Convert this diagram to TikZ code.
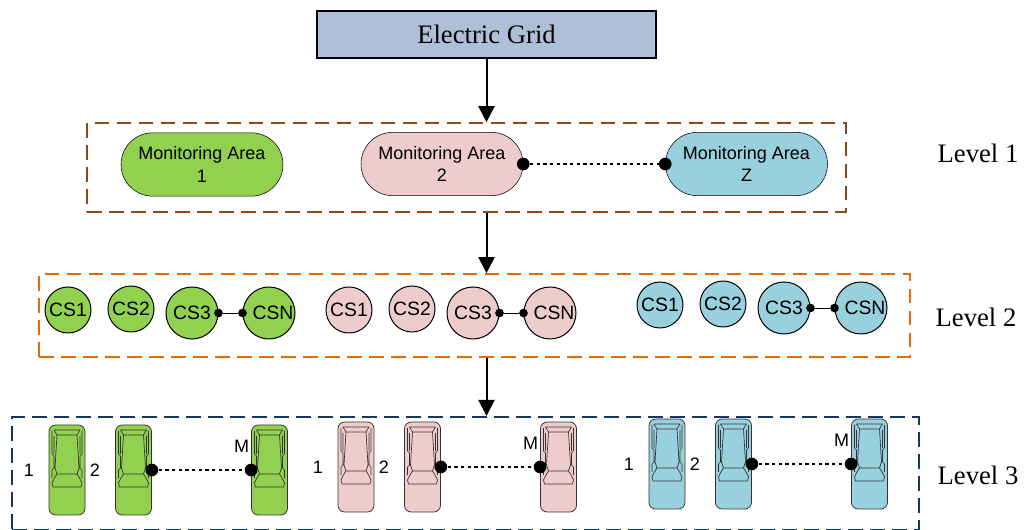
\documentclass[tikz,border=0pt]{standalone}
\usepackage{fontspec}
\setmainfont{Liberation Serif}
\setsansfont{Liberation Sans}
\usepackage{xcolor}
\usetikzlibrary{arrows.meta,positioning,calc,shapes.misc}

\definecolor{gridblue}{HTML}{AEBFD8}
\definecolor{greenfill}{HTML}{92D050}
\definecolor{pinkfill}{HTML}{EECCCC}
\definecolor{bluefill}{HTML}{99D0DE}
\definecolor{framebrown}{HTML}{8B4A1C}
\definecolor{frameorange}{HTML}{E36C0A}
\definecolor{framenavy}{HTML}{17375E}

\tikzset{
  frame/.style={draw=#1,line width=1.5pt,dash pattern=on 11pt off 5.5pt,inner sep=0pt},
  area/.style={rounded rectangle,draw=black,fill=#1,minimum width=121.5pt,minimum height=47.5pt,
    inner sep=0pt,align=center,font=\sffamily\fontsize{13.5}{17}\selectfont},
  smallcs/.style={circle,draw=black,line width=0.75pt,fill=#1,minimum size=34.5pt,inner sep=0pt,
    font=\sffamily\fontsize{14.5}{17}\selectfont},
  bigcs/.style={smallcs=#1,minimum size=39pt},
  dot/.style={circle,fill=black,minimum size=6.5pt,inner sep=0pt},
  bigdot/.style={circle,fill=black,minimum size=9.5pt,inner sep=0pt},
  link/.style={line width=1.5pt,dash pattern=on 2.6pt off 2.4pt},
  flow/.style={-{Triangle[length=12pt,width=12pt]},line width=1.5pt},
  level/.style={font=\fontsize{20}{24}\selectfont},
  num/.style={font=\sffamily\fontsize{13.5}{16}\selectfont},
  pics/evcar/.style={code={
    \node[draw=black!80,fill=#1,rounded corners=5pt,line width=0.6pt,minimum width=27pt,
      minimum height=67.5pt,inner sep=0pt] (-body) at (18,45) {};
    \draw[black!80,line width=0.5pt,line join=round]
      (5,5) -- (31,5) -- (28,10) -- (8,10) -- cycle
      (3,6) -- (3,29) -- (5,31) -- (5,43) -- (3,45) -- (3,53)
      (33,6) -- (33,29) -- (31,31) -- (31,43) -- (33,45) -- (33,53)
      (5,11) -- (5,29) (31,11) -- (31,29)
      (8,10) -- (6,43) -- (8,49) -- (28,49) -- (30,43) -- (28,10)
      (8,49) .. controls (6,52) and (4,55) .. (3,58) -- (4,62) -- (32,62) -- (33,58)
        .. controls (32,55) and (30,52) .. (28,49);
  }}
}

\begin{document}
\begin{tikzpicture}[x=0.75pt,y=-0.75pt,>=stealth]
  \useasboundingbox (0,0) rectangle (1026,530);

  \node[draw=black,line width=1.5pt,fill=gridblue,minimum width=254pt,minimum height=35pt,inner sep=0pt,
    font=\fontsize{20}{24}\selectfont] (grid) at (486.5,34.5) {Electric Grid};

  \node[frame=framebrown,minimum width=569pt,minimum height=66.5pt] (frameone) at (466.5,167.5) {};
  \node[frame=frameorange,minimum width=653pt,minimum height=62pt] (frametwo) at (474.5,315.5) {};
  \node[frame=framenavy,minimum width=680.25pt,minimum height=84.75pt] (framethree) at (465.5,473.5) {};

  \node[level] (levelone) at (978,153) {Level 1};
  \node[level] (leveltwo) at (976,317) {Level 2};
  \node[level] (levelthree) at (978,475) {Level 3};

  \draw[flow] (grid.south) -- (grid.south |- frameone.north);
  \draw[flow] (grid.south |- frameone.south) -- (grid.south |- frametwo.north);
  \draw[flow] (grid.south |- frametwo.south) -- (grid.south |- framethree.north);

  % monitoring areas
  \node[area=greenfill] (areaa) at (202,164.5) {Monitoring Area\\1};
  \node[area=pinkfill] (areab) at (442,164) {Monitoring Area\\2};
  \node[area=bluefill] (areaz) at (746.5,164) {Monitoring Area\\Z};
  \node[bigdot] (dota) at (areab.east) {};
  \node[bigdot] (dotz) at (areaz.west) {};
  \draw[link] (dota) -- (dotz);

  % charging stations
  \foreach \gname/\gcol/\gx/\gy in {g/greenfill/0/0,p/pinkfill/281/0,b/bluefill/592/-5}{
    \begin{scope}[shift={(\gx,\gy)}]
      \node[smallcs=\gcol] (\gname csa) at (68,310) {CS1};
      \node[smallcs=\gcol] (\gname csb) at (131,309) {CS2};
      \node[bigcs=\gcol] (\gname csc) at (192,313) {CS3\hspace{6pt}};
      \node[bigcs=\gcol] (\gname csn) at (269,313) {\hspace{6pt}CSN};
      \node[dot] (\gname dotc) at (\gname csc.east) {};
      \node[dot] (\gname dotn) at (\gname csn.west) {};
      \draw[line width=0.6pt] (\gname dotc) -- (\gname dotn);
    \end{scope}
  }

  % cars
  \foreach \gname/\gcol/\gx/\gy in {g/greenfill/49/425,p/pinkfill/338/422,b/bluefill/649/419}{
    \begin{scope}[shift={(\gx,\gy)}]
      \pic (\gname cara) at (0,0) {evcar=\gcol};
      \pic (\gname carb) at (66.5,0) {evcar=\gcol};
      \pic (\gname carm) at (202.5,0) {evcar=\gcol};
      \node[num] (\gname numa) at (-20,45) {1};
      \node[num] (\gname numb) at (46,45) {2};
      \node[num] (\gname numm) at (192.5,21) {M};
      \node[bigdot] (\gname dotb) at (\gname carb-body.east) {};
      \node[bigdot] (\gname dotm) at (\gname carm-body.west) {};
      \draw[link] (\gname dotb) -- (\gname dotm);
    \end{scope}
  }
\end{tikzpicture}
\end{document}
